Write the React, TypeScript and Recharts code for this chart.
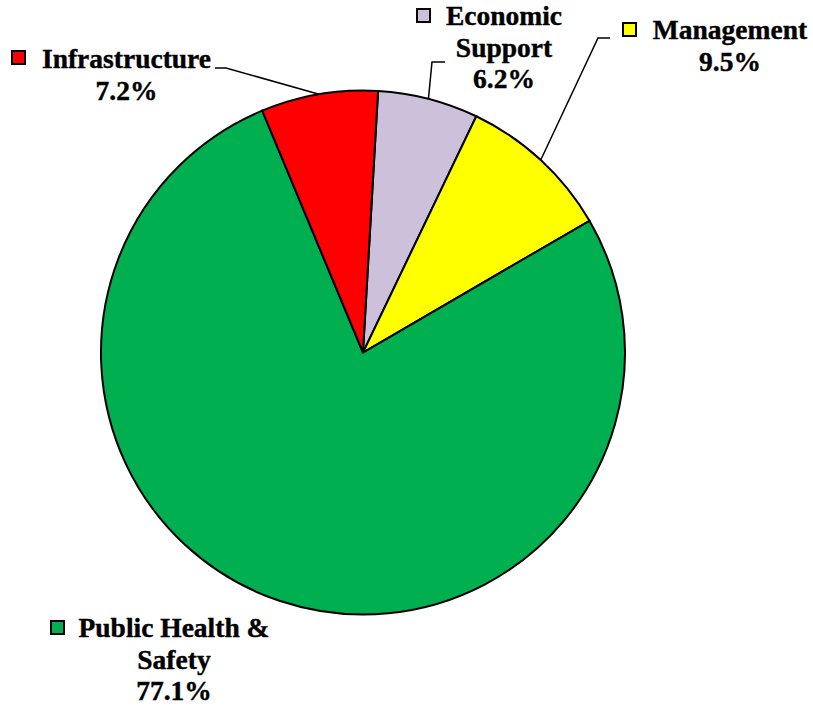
import React from 'react';
import { PieChart, Pie, Cell } from 'recharts';

const categories = ['Economic Support', 'Management', 'Public Health & Safety', 'Infrastructure'];
const shares = [6.2, 9.5, 77.1, 7.2];
const colors = ['#CCC0DA', '#FFFF00', '#00B050', '#FF0000'];
const labelLines = [['Economic', 'Support'], ['Management'], ['Public Health &', 'Safety'], ['Infrastructure']];

const data = categories.map((name, i) => ({ name, value: shares[i] }));

// layout of the data labels (page coordinates)
const labelLayout = [
  { cx: 504, y0: 25, key: [417, 9], leader: [[432, 62], [445, 62]] },
  { cx: 730, y0: 39, key: [623, 23], leader: [[598, 38], [610, 38]] },
  { cx: 174, y0: 637, key: [51, 621], leader: null },
  { cx: 126.5, y0: 68, key: [12, 51], leader: [[226, 68], [215, 68]] },
];

const FONT = '"Liberation Serif", "Times New Roman", serif';
const RAD = Math.PI / 180;

const renderLabel = (props: any) => {
  const { cx, cy, midAngle, outerRadius, index, percent } = props;
  const lay = labelLayout[index];
  const lines = [...labelLines[index], `${(percent * 100).toFixed(1)}%`];
  const ax = cx + outerRadius * Math.cos(-midAngle * RAD);
  const ay = cy + outerRadius * Math.sin(-midAngle * RAD);
  return (
    <g key={`lbl-${index}`}>
      {lay.leader && (
        <polyline
          points={[[ax, ay], ...lay.leader].map((p) => p.join(',')).join(' ')}
          fill="none"
          stroke="#000"
          strokeWidth={1.5}
        />
      )}
      <rect x={lay.key[0]} y={lay.key[1]} width={13} height={13} fill={colors[index]} stroke="#000" strokeWidth={2} />
      {lines.map((t, j) => (
        <text
          key={j}
          x={lay.cx}
          y={lay.y0 + j * 31.5}
          textAnchor="middle"
          fontFamily={FONT}
          fontWeight="bold"
          fontSize={27.5}
          fill="#000"
          stroke="#000"
          strokeWidth={0.4}
        >
          {t}
        </text>
      ))}
    </g>
  );
};

export default function App() {
  return (
    <div style={{ position: 'absolute', left: 0, top: 0, width: 813, height: 707, background: '#fff' }}>
      <PieChart width={813} height={707} margin={{ top: 0, right: 0, bottom: 0, left: 0 }}>
        <Pie
          data={data}
          dataKey="value"
          nameKey="name"
          cx={363}
          cy={352.5}
          outerRadius={262}
          startAngle={86.7}
          endAngle={-273.3}
          stroke="#000"
          strokeWidth={2}
          label={renderLabel}
          labelLine={false}
          isAnimationActive={false}
        >
          {data.map((d, i) => (
            <Cell key={d.name} fill={colors[i]} />
          ))}
        </Pie>
      </PieChart>
    </div>
  );
}
